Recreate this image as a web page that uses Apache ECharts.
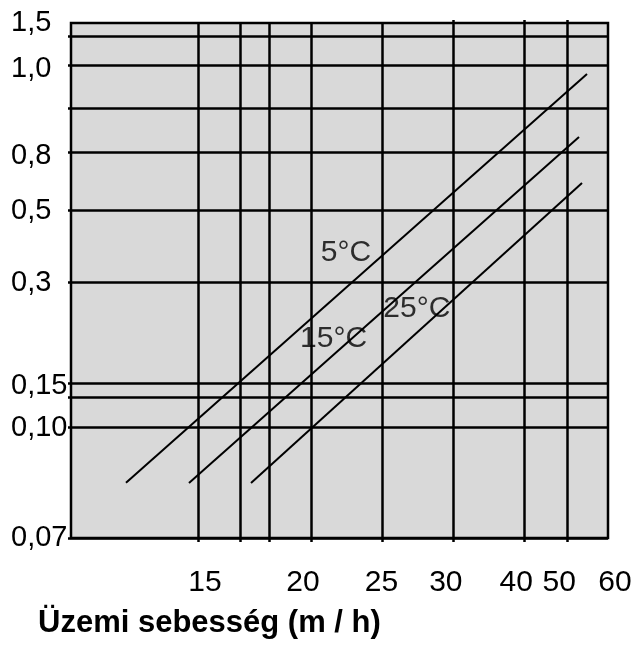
<!DOCTYPE html>
<html>
<head>
<meta charset="utf-8">
<script src="https://cdn.jsdelivr.net/npm/echarts@6/dist/echarts.min.js"></script>
<style>
  html, body { margin: 0; padding: 0; background: #fff; }
  #chart { width: 635px; height: 646px; }
</style>
</head>
<body>
<div id="chart"></div>
<script>
// the drawing's axes are neither linear nor log, so both axes run 0..100 (share of the plot)
const xGridPos = [23.65, 31.47, 36.87, 44.69, 57.91, 71.14, 84.36, 92.36];
const xTopTickPos = [71.14, 84.36, 92.36];
const xLabelPos = [24.95, 43.2, 57.8, 69.8, 82.9, 90.9, 100];
const xLabels = ['15', '20', '25', '30', '40', '50', '60'];

const yGridPos = [97.48, 91.84, 83.5, 74.95, 63.69, 49.71, 30.1, 27.38, 21.55];
const yLabelPos = [100, 91.07, 74.17, 63.5, 49.5, 29.6, 21.4, 0];
const yLabels = ['1,5', '1,0', '0,8', '0,5', '0,3', '0,15', '0,10', '0,07'];

// temperature lines, start and end point
const line5 = [[10.24, 10.74], [96.09, 90.1]];
const line15 = [[21.97, 10.68], [94.6, 77.86]];
const line25 = [[33.52, 10.68], [95.16, 68.93]];

const tempNames = ['5°C', '15°C', '25°C'];
const tempLabelPos = [[51.2, 55.4], [48.9, 38.7], [64.4, 44.6]];

function nearest(arr, v) {
    let best = 0;
    arr.forEach((p, i) => { if (Math.abs(p - v) < Math.abs(arr[best] - v)) best = i; });
    return best;
}

const chart = echarts.init(document.getElementById('chart'));

const font = 'Liberation Sans, Arial';
const lineStyle = { color: '#000', width: 2 };

chart.setOption({
    animation: false,
    title: {
        text: 'Üzemi sebesség (m / h)',
        left: 33,
        top: 603,
        textStyle: { fontFamily: font, fontWeight: 'bold', fontSize: 31, color: '#000' }
    },
    grid: {
        left: 71, right: 27, top: 23, bottom: 108,
        show: true,
        backgroundColor: '#d9d9d9',
        borderColor: '#000',
        borderWidth: 2.5
    },
    xAxis: [{
        type: 'value',
        min: 0, max: 100,
        axisLine: { show: false },
        axisTick: { show: true, customValues: xGridPos, length: 4, lineStyle: { color: '#000', width: 2.5 } },
        splitLine: { show: true, lineStyle: { color: '#000', width: 2.5 } },
        axisLabel: {
            customValues: xLabelPos,
            margin: 30,
            fontFamily: font,
            fontSize: 30,
            color: '#000',
            formatter: v => {
                const t = xLabels[nearest(xLabelPos, v)];
                return t === '60' ? '{r|' + t + '}' : t;
            },
            rich: { r: { fontFamily: font, fontSize: 30, color: '#000', padding: [0, 0, 0, 14] } }
        }
    }, {
        type: 'value',
        position: 'top',
        min: 0, max: 100,
        axisLine: { show: false },
        axisTick: { show: true, customValues: xTopTickPos, length: 3, lineStyle: { color: '#000', width: 2.5 } },
        splitLine: { show: false },
        axisLabel: { show: false }
    }],
    yAxis: {
        type: 'value',
        min: 0, max: 100,
        axisLine: { show: false },
        axisTick: { show: true, customValues: yGridPos.concat([0]), length: 3, lineStyle: { color: '#000', width: 2.5 } },
        splitLine: { show: true, lineStyle: { color: '#000', width: 2.5 } },
        axisLabel: {
            customValues: yLabelPos,
            align: 'left',
            margin: 60,
            fontFamily: font,
            fontSize: 29,
            color: '#000',
            formatter: v => yLabels[nearest(yLabelPos, v)]
        }
    },
    series: [
        { type: 'line', name: '5°C', data: line5, symbol: 'none', lineStyle: lineStyle, z: 5 },
        { type: 'line', name: '15°C', data: line15, symbol: 'none', lineStyle: lineStyle, z: 5 },
        { type: 'line', name: '25°C', data: line25, symbol: 'none', lineStyle: lineStyle, z: 5 },
        {
            type: 'scatter',
            symbolSize: 0,
            z: 6,
            itemStyle: { color: '#000' },
            data: tempLabelPos.map((p, i) => ({ value: p, name: tempNames[i] })),
            label: {
                show: true,
                position: [0, 0],
                align: 'center',
                verticalAlign: 'middle',
                formatter: p => p.name,
                fontFamily: font,
                fontSize: 30,
                color: '#000',
                textBorderWidth: 0
            }
        }
    ]
});
</script>
</body>
</html>
